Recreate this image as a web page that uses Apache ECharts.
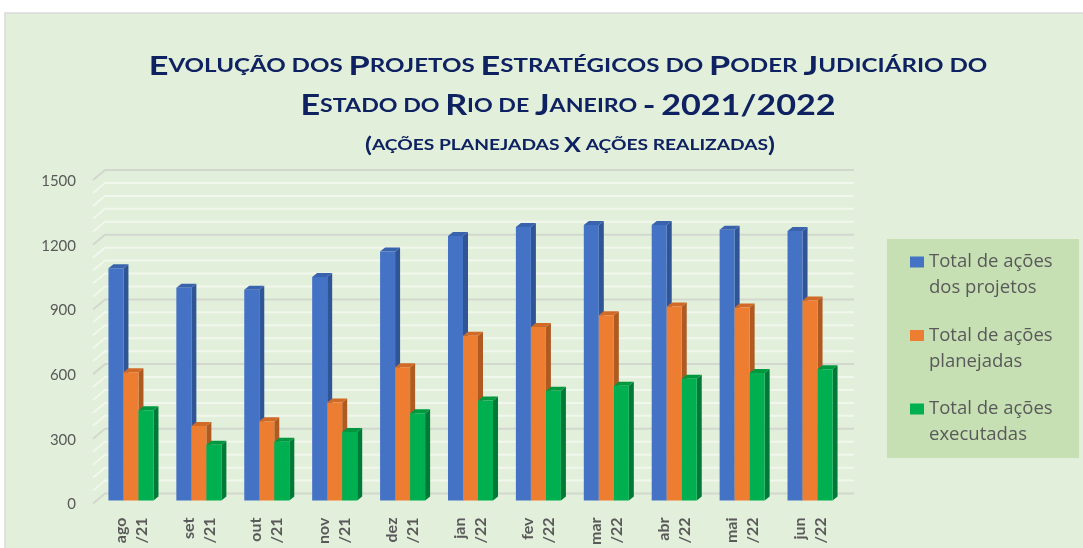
<!DOCTYPE html>
<html>
<head>
<meta charset="utf-8">
<script src="https://cdn.jsdelivr.net/npm/echarts@6/dist/echarts.min.js"></script>
<style>
  html, body { margin: 0; padding: 0; background: #ffffff; }
  #main { width: 1083px; height: 548px; }
</style>
</head>
<body>
<div id="main"></div>
<script>
// dados
var categories = ['ago\n/21', 'set\n/21', 'out\n/21', 'nov\n/21', 'dez\n/21', 'jan\n/22',
  'fev\n/22', 'mar\n/22', 'abr\n/22', 'mai\n/22', 'jun\n/22'];
var totalProjetos = [1077, 986, 977, 1036, 1155, 1227, 1268, 1277, 1277, 1255, 1250];
var planejadas = [595, 345, 368, 455, 618, 764, 805, 859, 900, 895, 927];
var executadas = [418, 259, 273, 318, 405, 464, 509, 532, 564, 591, 609];
var yTicks = [0, 300, 600, 900, 1200, 1500];
var gridValues = [0, 60, 120, 180, 240, 300, 360, 420, 480, 540, 600, 660, 720, 780, 840,
  900, 960, 1020, 1080, 1140, 1200, 1260, 1320, 1380, 1440, 1500];

var seriesNames = ['Total de ações\ndos projetos', 'Total de ações\nplanejadas', 'Total de ações\nexecutadas'];
var palette = [
  { front: '#4472c4', side: '#2f5597', top: '#3a63ad' },
  { front: '#ed7d31', side: '#ae5a21', top: '#d06a26' },
  { front: '#00b050', side: '#007a37', top: '#00983f' }
];

var titleColor = '#0e2160';
var FONT = 'Lato, "Open Sans", sans-serif';

// versalete: maiúsculas em 'c', minúsculas em 's'
function smallCaps(str, big, small) {
  var out = '', run = '', cur = null;
  for (var i = 0; i < str.length; i++) {
    var ch = str[i];
    var isLower = ch !== ch.toUpperCase();
    var st = isLower || ch === ' ' ? small : big;
    if (st !== cur && run) { out += '{' + cur + '|' + run + '}'; run = ''; }
    cur = st;
    run += isLower ? ch.toUpperCase() : ch;
  }
  if (run) out += '{' + cur + '|' + run + '}';
  return out;
}

function richTitle(c, s) {
  return {
    c: { fontSize: c, fontWeight: 'bold', fontFamily: FONT, fill: titleColor, color: titleColor },
    s: { fontSize: s, fontWeight: 'bold', fontFamily: FONT, fill: titleColor, color: titleColor }
  };
}

var myChart = echarts.init(document.getElementById('main'));

function barRenderer(k) {
  var col = palette[k];
  return function (params, api) {
    var i = api.value(0), v = api.value(1);
    var base = api.coord([i, 0]);
    var top = api.coord([i, v]);
    var band = api.size([1, 0])[0];
    var w = band * 0.221, dx = 5, dy = 4;
    var x0 = base[0] - 1.5 * w + k * w;
    var x1 = x0 + w;
    return {
      type: 'group',
      children: [
        { type: 'polygon', shape: { points: [[x1, top[1]], [x1 + dx, top[1] - dy], [x1 + dx, base[1] - dy], [x1, base[1]]] },
          style: { fill: col.side } },
        { type: 'polygon', shape: { points: [[x0, top[1]], [x0 + dx, top[1] - dy], [x1 + dx, top[1] - dy], [x1, top[1]]] },
          style: { fill: col.top } },
        { type: 'rect', shape: { x: x0, y: top[1], width: w, height: base[1] - top[1] },
          style: { fill: col.front } }
      ]
    };
  };
}

function gridRenderer(params, api) {
  var v = api.value(1);
  var y = api.coord([0, v])[1];
  var cs = params.coordSys;
  var major = v % 300 === 0;
  return {
    type: 'polyline',
    shape: { points: [[cs.x - 4, y + 3], [cs.x + 8, y - 7], [cs.x + cs.width + 10, y - 7]] },
    style: { stroke: major ? '#d3d8cf' : '#f1f7ed', lineWidth: 2, fill: null }
  };
}

var barSeries = [totalProjetos, planejadas, executadas].map(function (vals, k) {
  return {
    name: seriesNames[k],
    type: 'custom',
    z: 3,
    itemStyle: { color: palette[k].front },
    encode: { x: 0, y: 1 },
    renderItem: barRenderer(k),
    data: vals.map(function (v, i) { return [i, v]; })
  };
});

myChart.setOption({
  animation: false,
  textStyle: { fontFamily: FONT },
  grid: { left: 97, right: 239, top: 177, bottom: 41 },
  xAxis: {
    type: 'category',
    data: categories,
    axisLine: { show: false },
    axisTick: { show: false },
    axisLabel: {
      rotate: 90, margin: 17, fontSize: 16, lineHeight: 21,
      color: '#595959', fontWeight: 'bold', fontFamily: FONT, interval: 0
    }
  },
  yAxis: {
    type: 'value',
    min: yTicks[0],
    max: yTicks[yTicks.length - 1],
    interval: 300,
    axisLine: { show: false },
    axisTick: { show: false },
    splitLine: { show: false },
    axisLabel: {
      margin: 21, fontSize: 15, color: '#595959', fontFamily: FONT,
      verticalAlign: 'top', lineHeight: 8,
      formatter: function (v) { return String(v); }
    }
  },
  legend: {
    orient: 'vertical',
    left: 910,
    top: 223,
    padding: 0,
    z: 6,
    itemWidth: 14,
    itemHeight: 11,
    itemGap: -4.5,
    icon: 'rect',
    data: seriesNames,
    // linha vazia acima para alinhar o ícone com a primeira linha
    formatter: function (name) { return '\n' + name; },
    textStyle: { fontSize: 18.5, lineHeight: 26, color: '#595959', fontFamily: '"Open Sans", sans-serif' }
  },
  graphic: {
    elements: [
      { type: 'rect', z: 0, shape: { x: 5, y: 13, width: 1100, height: 600 },
        style: { fill: '#e2efda', stroke: '#d9d9d9', lineWidth: 1.5 } },
      { type: 'rect', z: 4, shape: { x: 887, y: 239, width: 192, height: 219 },
        style: { fill: '#c6e0b4' } },
      { type: 'text', z: 5, x: 568, y: 66, scaleX: 1.27,
        style: {
          text: smallCaps('Evolução dos Projetos Estratégicos do Poder Judiciário do', 'c', 's'),
          align: 'center', verticalAlign: 'middle', fill: titleColor, rich: richTitle(27, 19)
        } },
      { type: 'text', z: 5, x: 568, y: 106, scaleX: 1.22,
        style: {
          text: smallCaps('Estado do Rio de Janeiro - 2021/2022', 'c', 's'),
          align: 'center', verticalAlign: 'middle', fill: titleColor, rich: richTitle(28, 19)
        } },
      { type: 'text', z: 5, x: 570, y: 145, scaleX: 1.2,
        style: {
          text: smallCaps('(ações planejadas X ações realizadas)', 'c', 's'),
          align: 'center', verticalAlign: 'middle', fill: titleColor, rich: richTitle(21, 16)
        } }
    ]
  },
  series: [{
    type: 'custom',
    z: 1,
    silent: true,
    encode: { x: 0, y: 1 },
    renderItem: gridRenderer,
    data: gridValues.map(function (v) { return [0, v]; })
  }].concat(barSeries)
});
</script>
</body>
</html>
